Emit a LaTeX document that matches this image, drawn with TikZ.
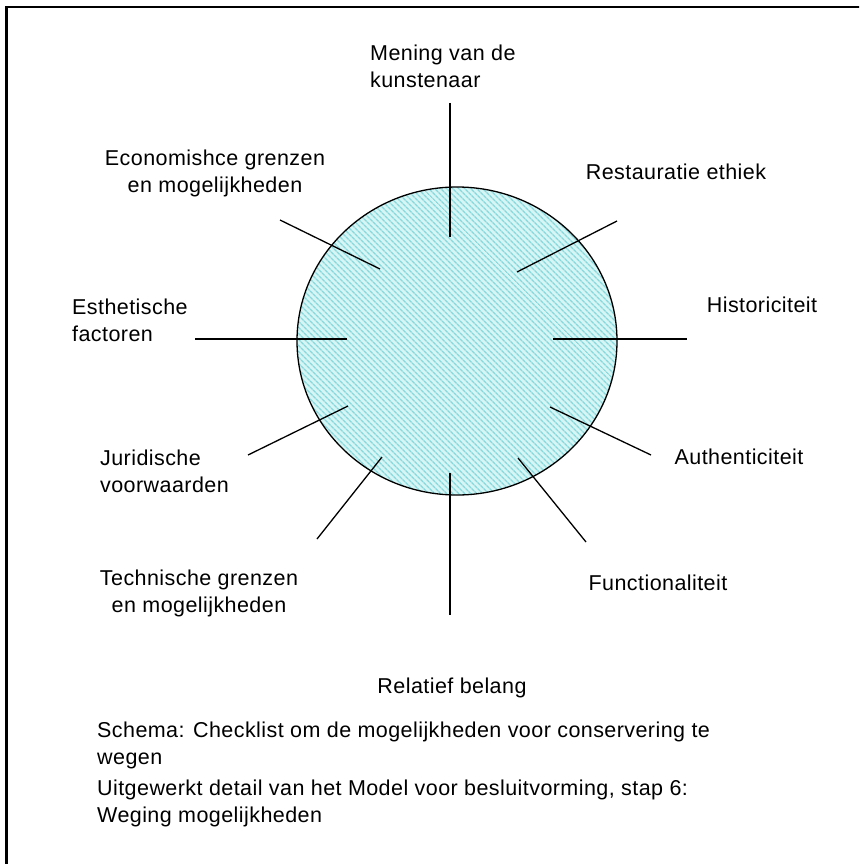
\documentclass[tikz,border=0pt]{standalone}
\usepackage{fontspec}
\setmainfont{Liberation Sans}[LetterSpace=2]
\usepackage{xcolor}
\usepackage{tikz}
\usetikzlibrary{patterns.meta}
\definecolor{discbase}{RGB}{214, 245, 245}
\definecolor{dischatch}{RGB}{135, 215, 220}

\tikzset{
  spoke/.style={line width=1.3pt, black},
  lbl/.style={inner sep=0pt, font=\fontsize{21.5}{27}\selectfont},
}

\begin{document}
\begin{tikzpicture}[x=1pt, y=-1pt]
\useasboundingbox (0,0) rectangle (859,864);
% frame (only top and left edge are inside the picture)
\begin{scope}
\clip (0,0) rectangle (859,864);
\draw[line width=2.2pt] (6.5,880) |- (880,7);
\end{scope}

% the disc
\fill[discbase] (457,341) ellipse [x radius=160, y radius=154];
\fill[pattern={Lines[angle=-45, distance=4pt, line width=1.5pt]}, pattern color=dischatch]
  (457,341) ellipse [x radius=160, y radius=154];
\draw[line width=1.3pt] (457,341) ellipse [x radius=160, y radius=154];

% spokes
\draw[spoke] (450,103) -- (450,237);
\draw[spoke] (280,220) -- (380,269);
\draw[spoke] (617,221) -- (517,272);
\draw[spoke] (195,339) -- (347,339);
\draw[spoke] (553,339) -- (687,339);
\draw[spoke] (248,455) -- (348,406);
\draw[spoke] (317,539) -- (382,457);
\draw[spoke] (550,407) -- (651,455);
\draw[spoke] (518,458) -- (586,542);
\draw[spoke] (450,473) -- (450,615);

% labels
\node[lbl, align=left, anchor=west] (mening) at (370,66) {Mening van de\\kunstenaar};
\node[lbl, align=center] (econ) at (215,173) {Economishce grenzen\\en mogelijkheden};
\node[lbl] (ethiek) at (676,172) {Restauratie ethiek};
\node[lbl] (hist) at (762,305) {Historiciteit};
\node[lbl, align=left, anchor=west] (esth) at (72,320) {Esthetische\\factoren};
\node[lbl, align=left, anchor=west] (jur) at (100,471) {Juridische\\voorwaarden};
\node[lbl] (auth) at (739,457) {Authenticiteit};
\node[lbl, align=center] (techn) at (199,593) {Technische grenzen\\en mogelijkheden};
\node[lbl] (func) at (658,583) {Functionaliteit};
\node[lbl] (relatief) at (452,688) {Relatief belang};

% caption
\node[lbl, align=left, anchor=north west] (schema) at (97,722)
  {Schema: Checklist om de mogelijkheden voor conservering te\\wegen};
\node[lbl, align=left, anchor=north west] (detail) at (97,780)
  {Uitgewerkt detail van het Model voor besluitvorming, stap 6:\\Weging mogelijkheden};
\end{tikzpicture}
\end{document}
